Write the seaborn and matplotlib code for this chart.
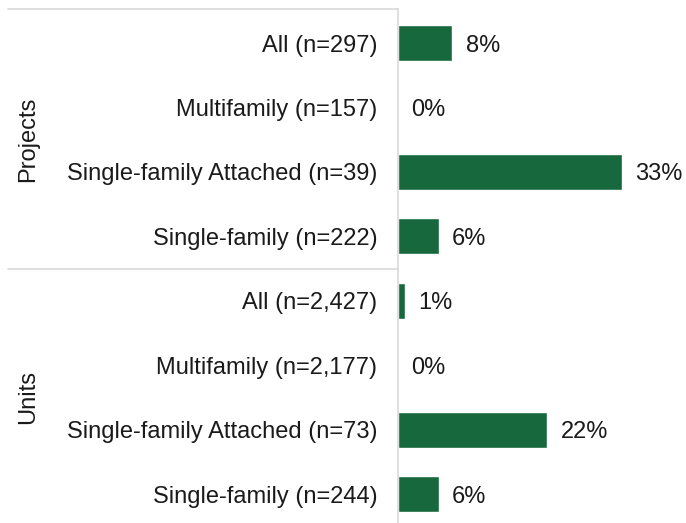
import pandas as pd
import seaborn as sns
import matplotlib.pyplot as plt

groups = ['Projects'] * 4 + ['Units'] * 4
labels = ['All (n=297)', 'Multifamily (n=157)', 'Single-family Attached (n=39)', 'Single-family (n=222)',
          'All (n=2,427)', 'Multifamily (n=2,177)', 'Single-family Attached (n=73)', 'Single-family (n=244)']
values = [8, 0, 33, 6, 1, 0, 22, 6]

GREEN = '#17683c'
LINE = '#d9d9d9'
FS = 17


def main():
    df = pd.DataFrame({'group': groups, 'label': labels, 'value': values})

    sns.set_style('white')
    plt.rcParams['font.family'] = ['Liberation Sans', 'DejaVu Sans']

    fig = plt.figure(figsize=(6.86, 5.23), dpi=100)
    ax = fig.add_axes([398 / 686, 0, 1 - 398 / 686, 1 - 9 / 523])

    sns.barplot(data=df, y='label', x='value', color=GREEN, width=0.56,
                saturation=1, ax=ax)

    ax.set_xlim(0, 42.4)
    ax.set_ylim(7.45, -0.53)
    ax.set_xlabel('')
    ax.set_ylabel('')
    ax.set_xticks([])
    ax.tick_params(axis='y', length=0, pad=15, labelsize=FS, colors='#1a1a1a')
    for s in ['top', 'right', 'bottom']:
        ax.spines[s].set_visible(False)
    ax.spines['left'].set_color(LINE)
    ax.spines['left'].set_linewidth(1.2)

    for i, v in enumerate(values):
        ax.annotate(f'{v}%', (v, i), xytext=(9.5, 0), textcoords='offset points',
                    va='center_baseline', ha='left', fontsize=FS, color='#1a1a1a')

    # group separator lines, left of the axes
    trans = ax.get_yaxis_transform()
    x0 = -(398 - 8) / (686 - 398)
    for y in [-0.53, 3.5]:
        ax.plot([x0, 0], [y, y], transform=trans, color=LINE, lw=1.2, clip_on=False)

    for name, yc in [('Projects', 1.5), ('Units', 5.5)]:
        ax.text(-(398 - 28) / (686 - 398), yc, name, transform=trans, rotation=90,
                ha='center', va='center', fontsize=FS, color='#1a1a1a')

    plt.savefig('out.png', dpi=100)


if __name__ == '__main__':
    main()
